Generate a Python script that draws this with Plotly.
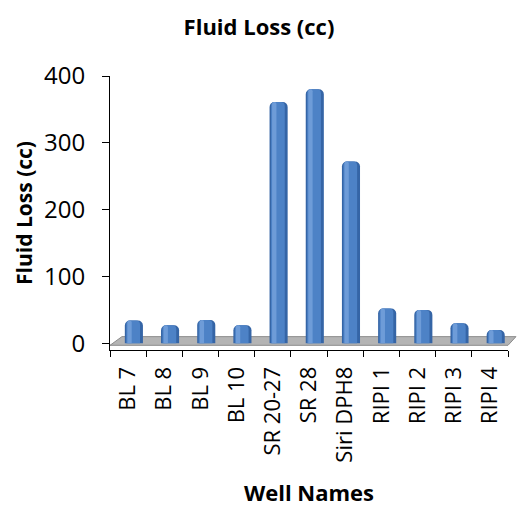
import plotly.graph_objects as go

wells = ["BL 7", "BL 8", "BL 9", "BL 10", "SR 20-27", "SR 28", "Siri DPH8",
         "RIPI 1", "RIPI 2", "RIPI 3", "RIPI 4"]
fluid_loss = [34, 27, 35, 27, 361, 380, 272, 52, 50, 30, 20]
y_ticks = [0, 100, 200, 300, 400]

FONT = "Open Sans"

fig = go.Figure()

# cylinder-like bars: dark rim, main body, highlight
fig.add_trace(go.Bar(x=wells, y=fluid_loss, width=0.5, offset=-0.09,
                     marker=dict(color="#3565a6", cornerradius=5, line=dict(width=0)),
                     hoverinfo="skip", showlegend=False))
fig.add_trace(go.Bar(x=wells, y=fluid_loss, width=0.38, offset=-0.05,
                     marker=dict(color="#4d82c6", cornerradius=4, line=dict(width=0)),
                     showlegend=False))
fig.add_trace(go.Bar(x=wells, y=fluid_loss, width=0.12, offset=-0.02,
                     marker=dict(color="#6e9cd8", cornerradius=2, line=dict(width=0)),
                     hoverinfo="skip", showlegend=False))

# grey floor
fig.add_shape(type="path", xref="x domain", yref="y",
              path="M 0 -3 L 0.03 10 L 1.02 10 L 1.0 -3 Z",
              fillcolor="#b4b4b4", line=dict(color="#8c8c8c", width=1), layer="below")

fig.update_layout(
    width=518, height=507,
    margin=dict(l=110, r=10, t=76, b=157, autoexpand=False),
    paper_bgcolor="white", plot_bgcolor="white",
    barmode="overlay",
    font=dict(family=FONT, color="black"),
    title=dict(text="<b>Fluid Loss (cc)</b>", x=0.5, xanchor="center",
               y=1 - 27 / 507, yanchor="middle",
               font=dict(family=FONT, size=22, color="black")),
    xaxis=dict(
        type="category", automargin=False,
        showline=True, linecolor="black", linewidth=1,
        ticks="outside", ticklen=6, tickcolor="black", tickson="boundaries",
        tickangle=-90, tickfont=dict(family=FONT, size=22, color="black"),
        ticklabelstandoff=7,
        showgrid=False, zeroline=False,
        title=dict(text="<b>Well Names</b>", font=dict(family=FONT, size=22, color="black"),
                   standoff=24),
    ),
    yaxis=dict(
        range=[-10, 400], tickvals=y_ticks, automargin=False,
        showline=True, linecolor="black", linewidth=1,
        ticks="outside", ticklen=7, tickcolor="black",
        tickfont=dict(family=FONT, size=24, color="black"),
        ticklabelstandoff=12,
        showgrid=False, zeroline=False,
        title=dict(text="<b>Fluid Loss (cc)</b>", font=dict(family=FONT, size=21, color="black"),
                   standoff=5),
    ),
)

fig.write_html("out.html")
